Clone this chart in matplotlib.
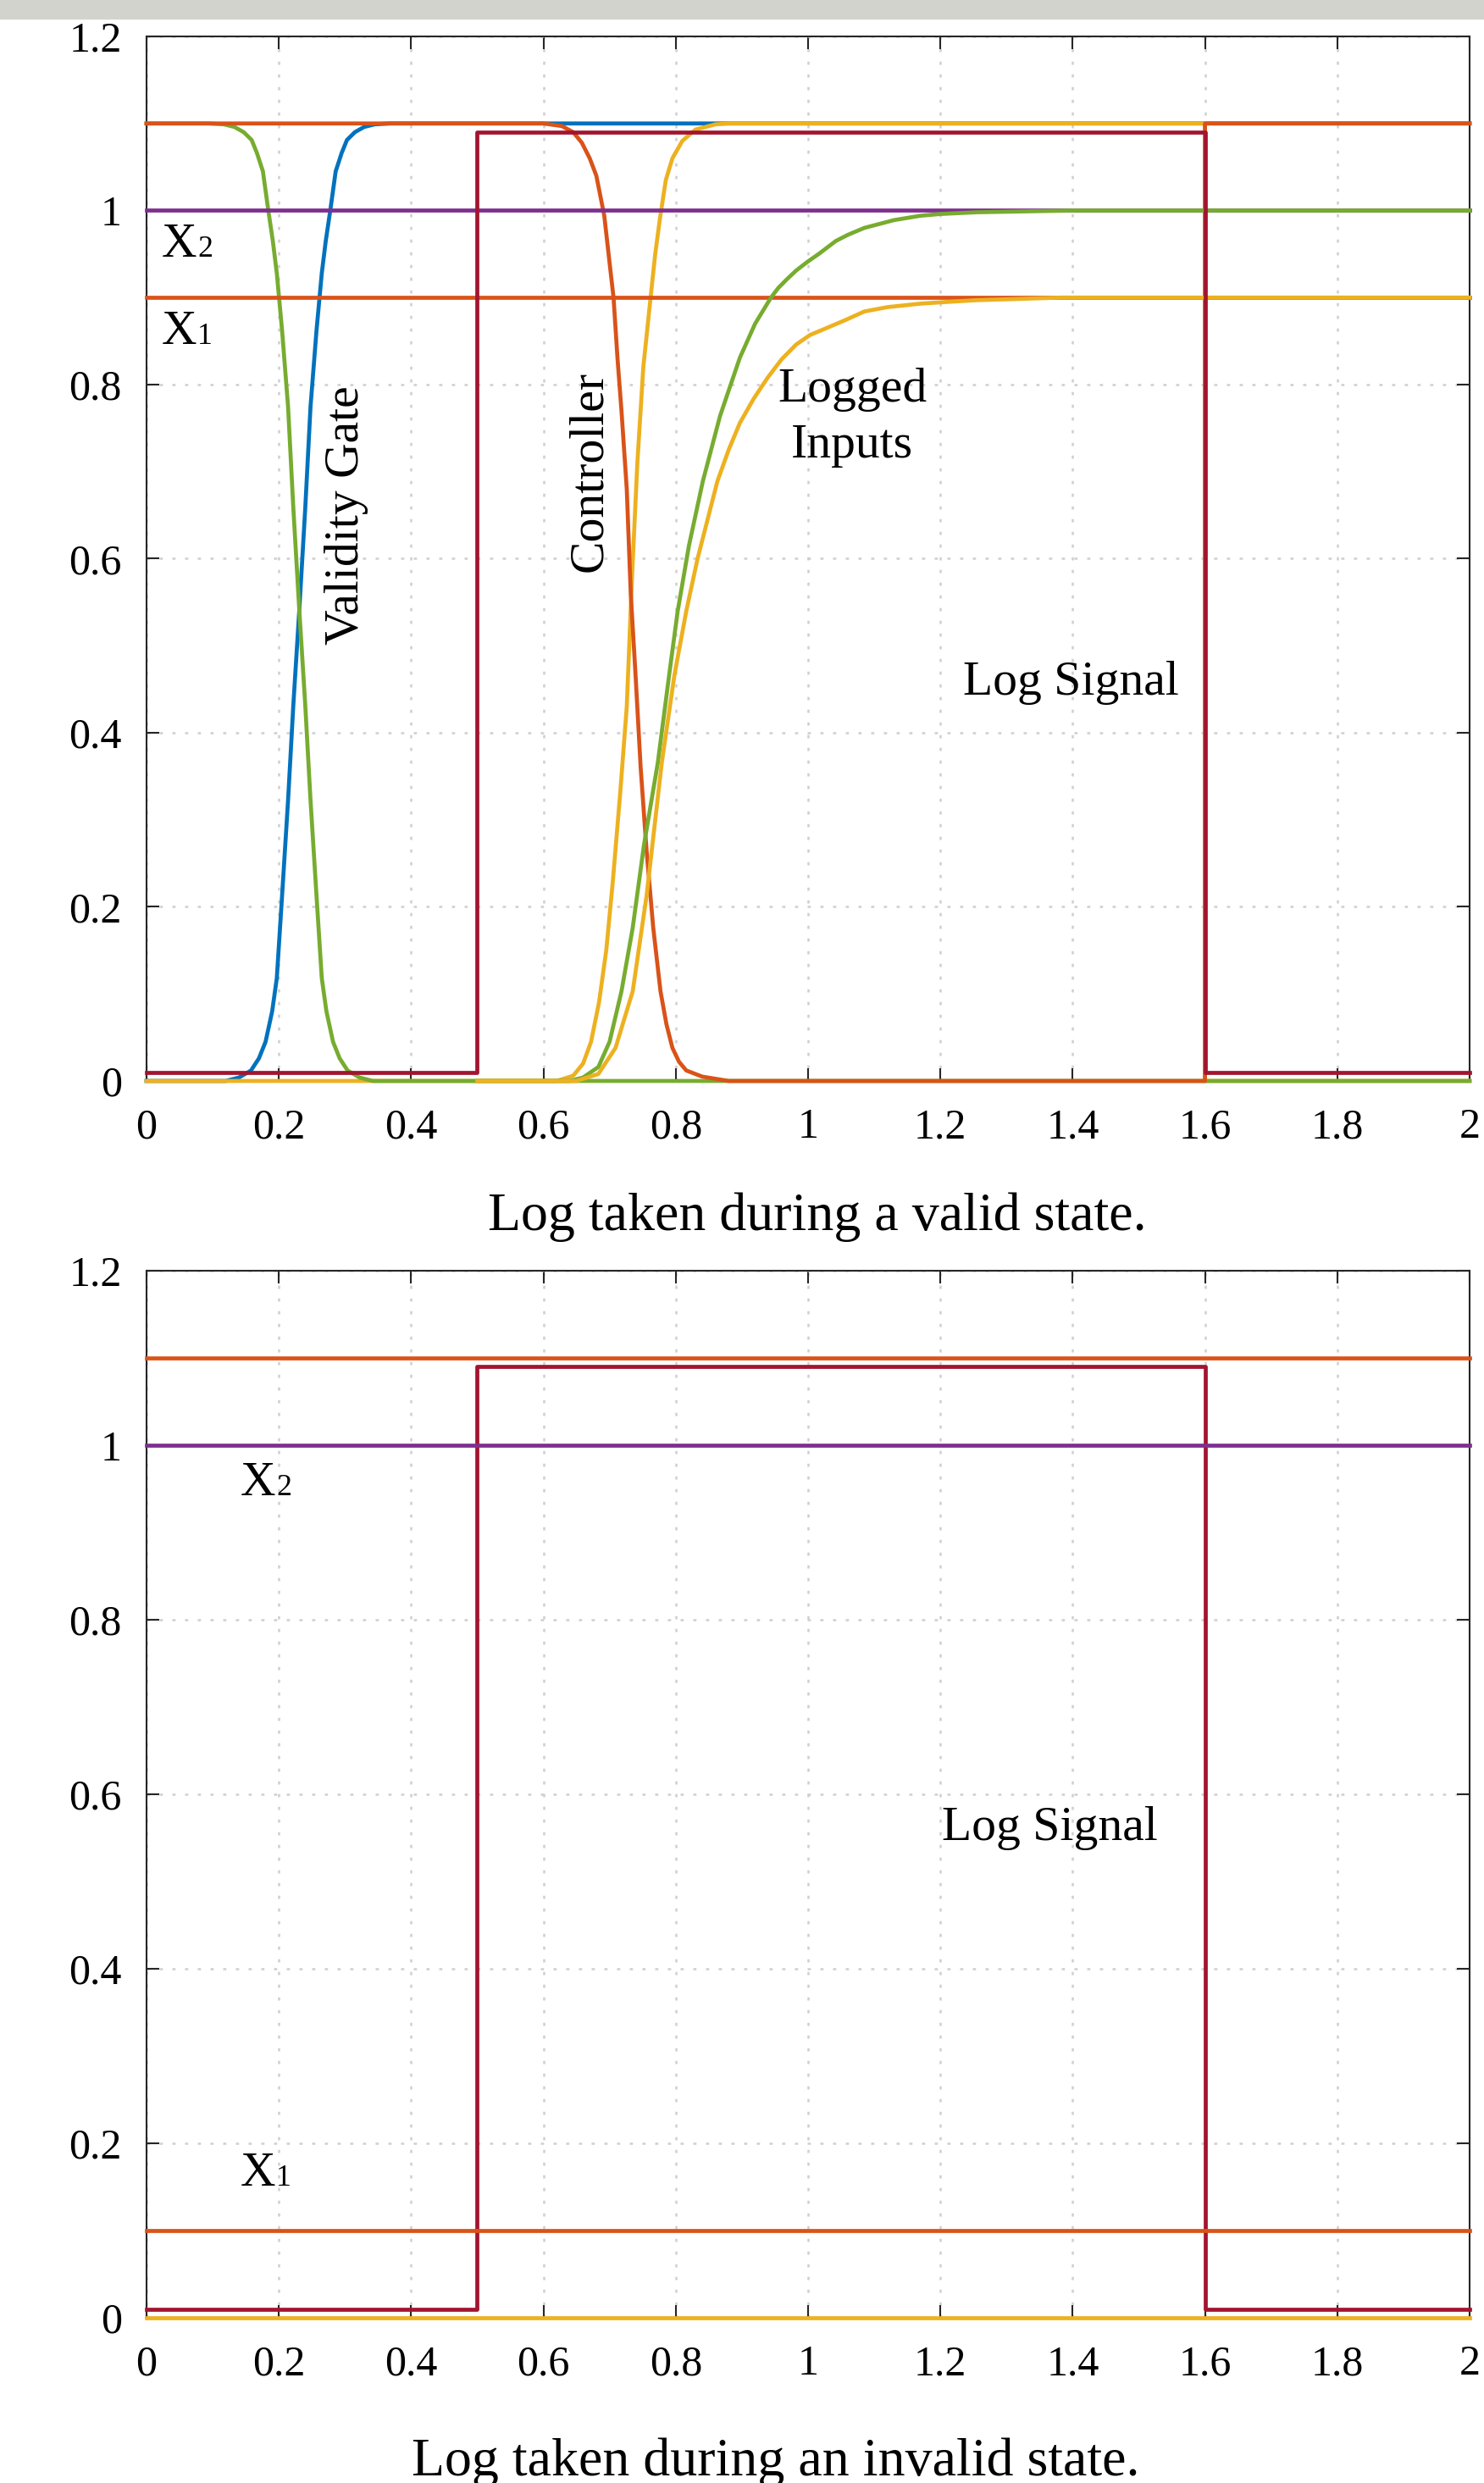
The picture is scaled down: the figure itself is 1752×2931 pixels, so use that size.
import matplotlib
matplotlib.use('Agg')
import matplotlib.pyplot as plt
import matplotlib.patches as patches

plt.rcParams['font.family'] = ['Liberation Serif', 'DejaVu Serif']

# Colours (MATLAB default order)
BLUE = '#0072BD'
ORANGE = '#D95319'
YELLOW = '#EDB120'
PURPLE = '#7E2F8E'
GREEN = '#77AC30'
MAROON = '#A2142F'

# Validity gate, rising (blue) and falling (green)
gateUpX = [0.0, 0.12, 0.14, 0.158, 0.17, 0.18, 0.19, 0.197, 0.205, 0.214, 0.222, 0.231, 0.240,
           0.248, 0.257, 0.265, 0.271, 0.278, 0.286, 0.295, 0.303, 0.315, 0.329, 0.345, 0.368, 2.0]
gateUpY = [0.0, 0.0, 0.004, 0.012, 0.026, 0.045, 0.08, 0.118, 0.213, 0.322, 0.432, 0.541, 0.658,
           0.775, 0.862, 0.928, 0.965, 1.001, 1.045, 1.066, 1.081, 1.09, 1.096, 1.099, 1.1, 1.1]
gateDownX = [0.0, 0.094, 0.117, 0.133, 0.147, 0.159, 0.167, 0.176, 0.184, 0.191, 0.197, 0.205, 0.214,
             0.222, 0.231, 0.240, 0.248, 0.257, 0.265, 0.272, 0.282, 0.292, 0.304, 0.322, 0.342, 2.0]
gateDownY = [1.1, 1.1, 1.099, 1.096, 1.09, 1.081, 1.066, 1.045, 1.001, 0.965, 0.928, 0.862, 0.775,
             0.658, 0.541, 0.432, 0.322, 0.213, 0.118, 0.08, 0.045, 0.026, 0.012, 0.004, 0.0, 0.0]

# Controller, falling (orange) and rising (yellow)
ctrlDownX = [0.0, 0.60, 0.628, 0.645, 0.658, 0.67, 0.68, 0.692, 0.700, 0.706, 0.712, 0.718, 0.726,
             0.732, 0.739, 0.747, 0.756, 0.766, 0.777, 0.786, 0.795, 0.805, 0.816, 0.84, 0.88, 1.6, 1.6, 2.0]
ctrlDownY = [1.1, 1.1, 1.097, 1.09, 1.078, 1.06, 1.04, 0.994, 0.94, 0.9, 0.83, 0.77, 0.68,
             0.56, 0.47, 0.36, 0.264, 0.176, 0.103, 0.065, 0.038, 0.022, 0.012, 0.005, 0.0, 0.0, 1.1, 1.1]
ctrlUpX = [0.0, 0.62, 0.645, 0.66, 0.672, 0.684, 0.695, 0.705, 0.716, 0.726, 0.734, 0.742, 0.751,
           0.762, 0.769, 0.776, 0.785, 0.795, 0.81, 0.83, 0.86, 0.88, 1.6, 1.6, 2.0]
ctrlUpY = [0.0, 0.0, 0.006, 0.02, 0.045, 0.09, 0.15, 0.23, 0.33, 0.43, 0.58, 0.71, 0.82,
           0.9, 0.95, 0.99, 1.035, 1.06, 1.08, 1.093, 1.099, 1.1, 1.1, 0.0, 0.0]

# Logged inputs (start when the log signal goes high)
loggedAX = [0.5, 0.64, 0.66, 0.683, 0.70, 0.718, 0.735, 0.752, 0.773, 0.790, 0.803, 0.820, 0.841,
            0.867, 0.897, 0.920, 0.944, 0.955, 0.968, 0.982, 0.999, 1.016, 1.042, 1.06, 1.085,
            1.11, 1.13, 1.17, 1.2, 1.255, 1.4, 2.0]
loggedAY = [0.0, 0.0, 0.004, 0.016, 0.045, 0.103, 0.176, 0.271, 0.366, 0.466, 0.540, 0.615, 0.689,
            0.764, 0.831, 0.87, 0.9, 0.911, 0.921, 0.931, 0.941, 0.95, 0.965, 0.972, 0.98,
            0.985, 0.989, 0.994, 0.996, 0.998, 1.0, 1.0]
loggedBX = [0.5, 0.65, 0.683, 0.709, 0.735, 0.756, 0.779, 0.798, 0.816, 0.833, 0.863, 0.88, 0.897,
            0.918, 0.939, 0.96, 0.982, 1.003, 1.025, 1.059, 1.085, 1.12, 1.17, 1.21, 1.255, 1.3, 1.383, 2.0]
loggedBY = [0.0, 0.0, 0.008, 0.038, 0.103, 0.213, 0.366, 0.466, 0.540, 0.600, 0.689, 0.725, 0.756,
            0.784, 0.808, 0.829, 0.846, 0.857, 0.864, 0.875, 0.884, 0.889, 0.893, 0.895, 0.897, 0.898, 0.9, 0.9]

# Log signal (step, held after each x)
logSignalX = [0.0, 0.5, 1.6, 2.0]
logSignalY = [0.01, 1.09, 0.01, 0.01]

# Reference levels
x2Level = 1.0
x1LevelValid = 0.9
x1LevelInvalid = 0.1
topLevel = 1.1
bottomLevel = 0.0

xTicks = [0, 0.2, 0.4, 0.6, 0.8, 1.0, 1.2, 1.4, 1.6, 1.8, 2.0]
xTickLabels = ['0', '0.2', '0.4', '0.6', '0.8', '1', '1.2', '1.4', '1.6', '1.8', '2']
yTicks = [0, 0.2, 0.4, 0.6, 0.8, 1.0, 1.2]
yTickLabels = ['0', '0.2', '0.4', '0.6', '0.8', '1', '1.2']

LW = 3.4
ANNOT = 41.5


def style_axes(ax):
    """Box, inward ticks on all sides and a dotted grid."""
    ax.set_xlim(0, 2)
    ax.set_ylim(0, 1.2)
    ax.set_xticks(xTicks)
    ax.set_xticklabels(xTickLabels)
    ax.set_yticks(yTicks)
    ax.set_yticklabels(yTickLabels)
    ax.tick_params(direction='in', length=11, width=1.5, top=True, right=True,
                   labelsize=36, colors='#262626', labelcolor='black')
    ax.tick_params(axis='x', pad=23)
    ax.tick_params(axis='y', pad=21)
    for spine in ax.spines.values():
        spine.set_linewidth(1.5)
        spine.set_color('#262626')
    ax.grid(True, linestyle=(0, (1.5, 4.5)), linewidth=1.8, color='#cfcfcf')
    ax.set_axisbelow(True)


def line(ax, x, y, color, z):
    ax.plot(x, y, color=color, lw=LW, zorder=z, clip_on=False)


def subscript_label(ax, x, y, index):
    """An X with a small index sitting on the baseline, as in the source figure."""
    ax.text(x, y, 'X', fontsize=ANNOT, ha='left', va='baseline')
    ax.annotate(index, xy=(x, y), xytext=(0.73 * ANNOT, 0), textcoords='offset points',
                fontsize=ANNOT * 0.62, ha='left', va='baseline')


fig = plt.figure(figsize=(17.52, 29.31), dpi=100)
fig.patches.append(patches.Rectangle((0, 1 - 22 / 2931), 1, 22 / 2931, transform=fig.transFigure,
                                     color='#d3d3cd', zorder=0))

# Valid state
axTop = fig.add_axes([0.0987, 0.56466, 0.8916, 0.42067])
style_axes(axTop)
line(axTop, gateUpX, gateUpY, BLUE, 3.0)
line(axTop, ctrlUpX, ctrlUpY, YELLOW, 3.1)
line(axTop, gateDownX, gateDownY, GREEN, 3.2)
line(axTop, ctrlDownX, ctrlDownY, ORANGE, 3.3)
line(axTop, [0, 2], [x2Level, x2Level], PURPLE, 3.5)
line(axTop, [0, 2], [x1LevelValid, x1LevelValid], ORANGE, 3.5)
line(axTop, loggedAX, loggedAY, GREEN, 3.6)
line(axTop, loggedBX, loggedBY, YELLOW, 3.7)
axTop.step(logSignalX, logSignalY, where='post', color=MAROON, lw=LW, zorder=3.8, clip_on=False)

subscript_label(axTop, 0.023, 0.947, '2')
subscript_label(axTop, 0.023, 0.847, '1')
axTop.text(0.302, 0.65, 'Validity Gate', fontsize=ANNOT, rotation=90, ha='center', va='center')
axTop.text(0.67, 0.70, 'Controller', fontsize=ANNOT, rotation=90, ha='center', va='center')
axTop.text(1.067, 0.762, 'Logged\nInputs', fontsize=ANNOT, ha='center', va='center', linespacing=1.35)
axTop.text(1.397, 0.457, 'Log Signal', fontsize=ANNOT, ha='center', va='center')

# Invalid state
axBottom = fig.add_axes([0.0987, 0.06653, 0.8916, 0.4217])
style_axes(axBottom)
axBottom.step(logSignalX, logSignalY, where='post', color=MAROON, lw=LW, zorder=3.0, clip_on=False)
line(axBottom, [0, 2], [topLevel, topLevel], ORANGE, 3.2)
line(axBottom, [0, 2], [x2Level, x2Level], PURPLE, 3.2)
line(axBottom, [0, 2], [x1LevelInvalid, x1LevelInvalid], ORANGE, 3.2)
line(axBottom, [0, 2], [bottomLevel, bottomLevel], YELLOW, 3.3)

subscript_label(axBottom, 0.142, 0.943, '2')
subscript_label(axBottom, 0.142, 0.151, '1')
axBottom.text(1.366, 0.561, 'Log Signal', fontsize=ANNOT, ha='center', va='center')

fig.text(0.5508, 1 - 1452 / 2931, 'Log taken during a valid state.', fontsize=46,
         ha='center', va='baseline')
fig.text(0.5228, 1 - 2922 / 2931, 'Log taken during an invalid state.', fontsize=46,
         ha='center', va='baseline')

plt.savefig('out.png', dpi=100)
